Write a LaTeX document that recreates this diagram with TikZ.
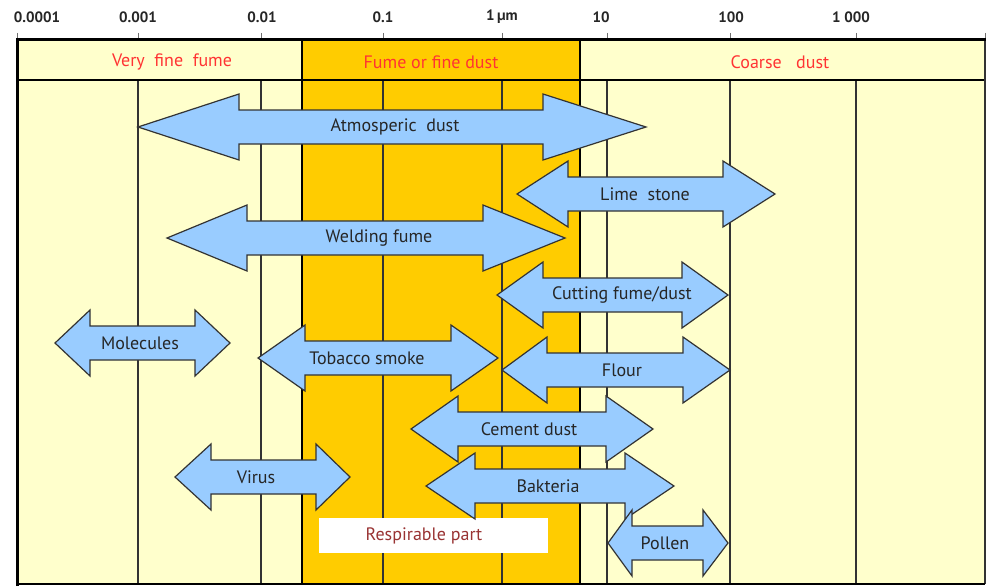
\documentclass[tikz,border=0pt]{standalone}
\usepackage{fontspec}
\setmainfont{PT Sans}
\usepackage{xcolor}
\usetikzlibrary{positioning}
\definecolor{dlight}{HTML}{FFFFCC}
\definecolor{dorange}{HTML}{FFCC00}
\definecolor{dblue}{HTML}{99CCFF}
\definecolor{dred}{HTML}{FF3333}
\definecolor{dwine}{HTML}{993333}
\definecolor{dline}{HTML}{333333}

\begin{document}
\begin{tikzpicture}[x=1pt, y=-1pt,
  arrowbox/.style={fill=dblue, draw=dline, line width=1.2pt, line join=miter},
  lbl/.style={font=\fontsize{18}{18}\selectfont, text=black!85, inner sep=1pt},
  zonelbl/.style={font=\fontsize{18}{18}\selectfont, text=dred, inner sep=1pt},
  scalelbl/.style={font=\fontsize{15}{15}\selectfont\bfseries, text=black!85, inner sep=1pt}]

  \useasboundingbox (0,0) rectangle (987,586);
  \fill[white] (0,0) rectangle (987,586);

  %% Zones
  \fill[dlight] (17,40) rectangle (985,584);
  \fill[dorange] (302,40) rectangle (580,584);

  %% Grid lines
  \foreach \x in {138,261,383,502,607,730,856}{
    \draw[dline, line width=1.2pt] (\x,80) -- (\x,584);
  }
  \foreach \x in {17,138,261,383,502,607,730,856,985}{
    \draw[dline!70, line width=1pt] (\x,33) -- (\x,40);
  }

  %% Frame and zone borders
  \draw[black, line width=2.5pt] (302,40) -- (302,584);
  \draw[black, line width=2.5pt] (580,40) -- (580,584);
  \draw[black, line width=2.5pt] (17,80) -- (985,80);
  \draw[dline, line width=1.5pt] (985,40) -- (985,584);
  \draw[black, line width=2pt] (17,584) -- (985,584);
  \draw[black, line width=3pt] (17,586) -- (17,40) -- (986,40);

  %% Scale
  \foreach \x/\t [count=\i] in {37/0.0001, 138/0.001, 262/0.01, 383/0.1,
                                502/{1\,µm}, 601/10, 731/100, 851/{1 000}}{
    \node[scalelbl] (scale\i) at (\x,17) {\t};
  }

  %% Zone headers
  \node[zonelbl] (veryfine) at (172,62) {Very\ \ fine\ \ fume};
  \node[zonelbl] (finedust) at (431,62) {Fume or fine dust};
  \node[zonelbl] (coarse) at (780,62) {Coarse\ \ \ dust};

  %% Respirable part
  \fill[white] (319,518) rectangle (548,553);
  \node[lbl, text=dwine] (respirable) at (424,536) {Respirable part};

  %% Particle ranges (left tip / left base / right base / right tip)
  \foreach \nm/\xa/\xb/\xc/\xd/\yc/\tx/\lab in {
    atmos/138/239/543/646/127/395/{Atmosperic\ \ dust},
    lime/517/568/723/775/194/645/{Lime\ \ stone},
    welding/167/247/483/565/238/379/{Welding fume},
    cutting/497/543/682/728/295/622/{Cutting fume/dust},
    molecules/55/90/195/230/343/140/{Molecules},
    tobacco/258/305/451/498/358/367/{Tobacco smoke},
    flour/502/547/683/730/370/622/{Flour},
    cement/411/458/606/653/429/529/{Cement dust},
    virus/175/211/316/350/477/256/{Virus},
    bakteria/426/475/625/674/486/548/{Bakteria},
    pollen/608/632/703/728/543/665/{Pollen}
  }{
    \draw[arrowbox] (\xa,\yc) -- (\xb,{\yc-33}) -- (\xb,{\yc-17}) -- (\xc,{\yc-17})
      -- (\xc,{\yc-33}) -- (\xd,\yc) -- (\xc,{\yc+33}) -- (\xc,{\yc+17})
      -- (\xb,{\yc+17}) -- (\xb,{\yc+33}) -- cycle;
    \node[lbl] (\nm) at (\tx,\yc) {\lab};
  }

\end{tikzpicture}
\end{document}
